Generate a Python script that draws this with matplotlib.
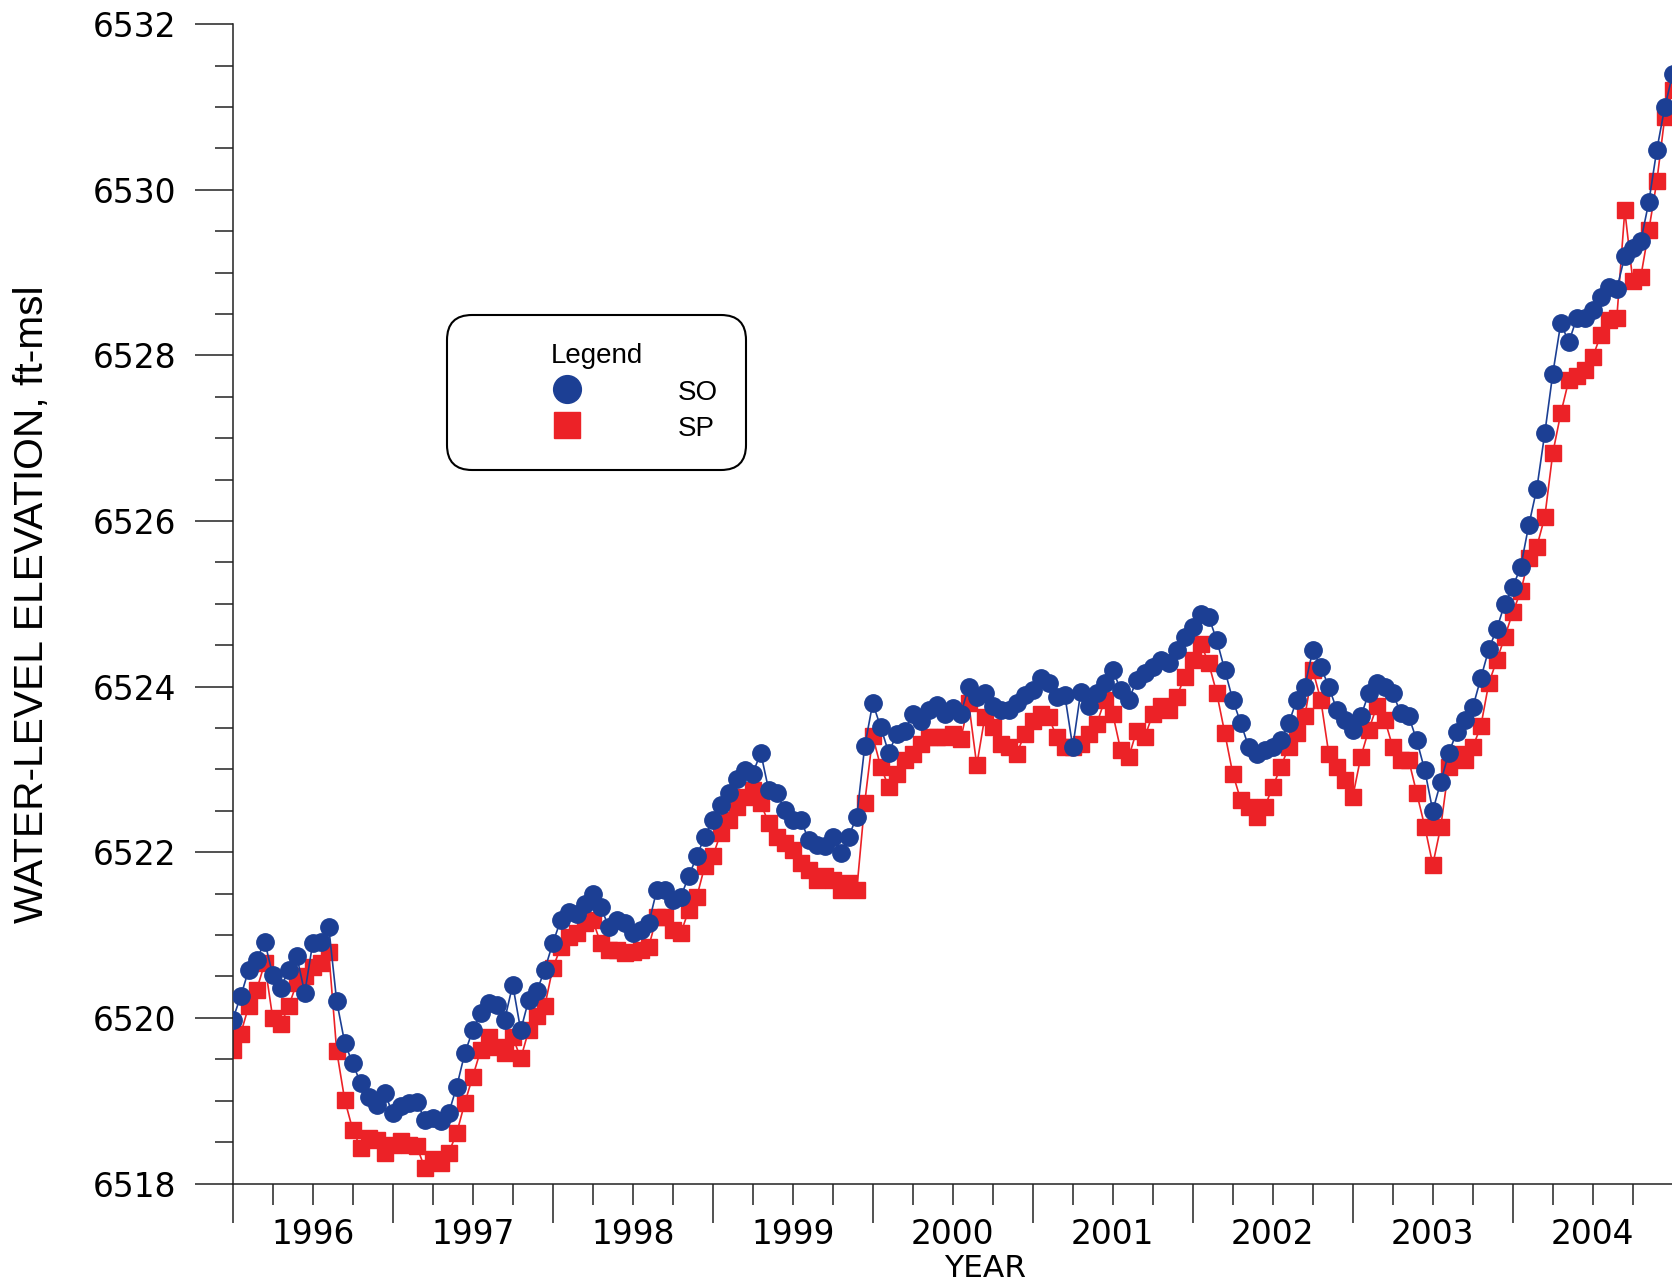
import matplotlib
matplotlib.use("Agg")
import matplotlib.pyplot as plt
from matplotlib.lines import Line2D
from matplotlib.ticker import MultipleLocator, NullFormatter, FuncFormatter

plt.rcParams['font.family'] = ['DejaVu Sans Condensed', 'DejaVu Sans']

# Sampling dates (decimal years)
years = [
    1996.00, 1996.05, 1996.10, 1996.15, 1996.20, 1996.25, 1996.30, 1996.35, 1996.40, 1996.45,
    1996.50, 1996.55, 1996.60, 1996.65, 1996.70, 1996.75, 1996.80, 1996.85, 1996.90, 1996.95,
    1997.00, 1997.05, 1997.10, 1997.15, 1997.20, 1997.25, 1997.30, 1997.35, 1997.40, 1997.45,
    1997.50, 1997.55, 1997.60, 1997.65, 1997.70, 1997.75, 1997.80, 1997.85, 1997.90, 1997.95,
    1998.00, 1998.05, 1998.10, 1998.15, 1998.20, 1998.25, 1998.30, 1998.35, 1998.40, 1998.45,
    1998.50, 1998.55, 1998.60, 1998.65, 1998.70, 1998.75, 1998.80, 1998.85, 1998.90, 1998.95,
    1999.00, 1999.05, 1999.10, 1999.15, 1999.20, 1999.25, 1999.30, 1999.35, 1999.40, 1999.45,
    1999.50, 1999.55, 1999.60, 1999.65, 1999.70, 1999.75, 1999.80, 1999.85, 1999.90, 1999.95,
    2000.00, 2000.05, 2000.10, 2000.15, 2000.20, 2000.25, 2000.30, 2000.35, 2000.40, 2000.45,
    2000.50, 2000.55, 2000.60, 2000.65, 2000.70, 2000.75, 2000.80, 2000.85, 2000.90, 2000.95,
    2001.00, 2001.05, 2001.10, 2001.15, 2001.20, 2001.25, 2001.30, 2001.35, 2001.40, 2001.45,
    2001.50, 2001.55, 2001.60, 2001.65, 2001.70, 2001.75, 2001.80, 2001.85, 2001.90, 2001.95,
    2002.00, 2002.05, 2002.10, 2002.15, 2002.20, 2002.25, 2002.30, 2002.35, 2002.40, 2002.45,
    2002.50, 2002.55, 2002.60, 2002.65, 2002.70, 2002.75, 2002.80, 2002.85, 2002.90, 2002.95,
    2003.00, 2003.05, 2003.10, 2003.15, 2003.20, 2003.25, 2003.30, 2003.35, 2003.40, 2003.45,
    2003.50, 2003.55, 2003.60, 2003.65, 2003.70, 2003.75, 2003.80, 2003.85, 2003.90, 2003.95,
    2004.00, 2004.05, 2004.10, 2004.15, 2004.20, 2004.25, 2004.30, 2004.35, 2004.40, 2004.45,
    2004.50, 2004.55, 2004.60, 2004.65, 2004.70, 2004.75, 2004.80, 2004.85, 2004.90, 2004.95,
    2005.00,
]

# Water-level elevation, ft-msl
so = [
    6519.98, 6520.26, 6520.58, 6520.70, 6520.92, 6520.52, 6520.36, 6520.58, 6520.75, 6520.30,
    6520.90, 6520.92, 6521.10, 6520.20, 6519.70, 6519.45, 6519.21, 6519.05, 6518.95, 6519.09,
    6518.85, 6518.93, 6518.97, 6518.99, 6518.77, 6518.79, 6518.75, 6518.85, 6519.17, 6519.57,
    6519.85, 6520.06, 6520.18, 6520.16, 6519.98, 6520.40, 6519.85, 6520.22, 6520.32, 6520.58,
    6520.90, 6521.18, 6521.28, 6521.26, 6521.38, 6521.50, 6521.34, 6521.10, 6521.18, 6521.14,
    6521.02, 6521.06, 6521.14, 6521.54, 6521.54, 6521.42, 6521.46, 6521.71, 6521.95, 6522.19,
    6522.39, 6522.57, 6522.71, 6522.89, 6522.99, 6522.95, 6523.20, 6522.75, 6522.71, 6522.51,
    6522.39, 6522.39, 6522.15, 6522.09, 6522.07, 6522.19, 6521.99, 6522.19, 6522.43, 6523.28,
    6523.80, 6523.51, 6523.20, 6523.43, 6523.47, 6523.67, 6523.59, 6523.72, 6523.78, 6523.67,
    6523.74, 6523.67, 6524.00, 6523.88, 6523.92, 6523.76, 6523.72, 6523.72, 6523.80, 6523.90,
    6523.96, 6524.10, 6524.04, 6523.88, 6523.90, 6523.27, 6523.94, 6523.76, 6523.92, 6524.04,
    6524.20, 6523.96, 6523.84, 6524.08, 6524.16, 6524.24, 6524.32, 6524.28, 6524.44, 6524.60,
    6524.72, 6524.88, 6524.84, 6524.56, 6524.20, 6523.84, 6523.56, 6523.27, 6523.19, 6523.23,
    6523.27, 6523.35, 6523.56, 6523.84, 6524.00, 6524.44, 6524.24, 6524.00, 6523.72, 6523.60,
    6523.48, 6523.64, 6523.92, 6524.04, 6524.00, 6523.92, 6523.68, 6523.64, 6523.35, 6522.99,
    6522.50, 6522.85, 6523.20, 6523.45, 6523.60, 6523.75, 6524.10, 6524.45, 6524.70, 6525.00,
    6525.20, 6525.45, 6525.95, 6526.39, 6527.06, 6527.78, 6528.39, 6528.16, 6528.45, 6528.45,
    6528.55, 6528.70, 6528.82, 6528.80, 6529.20, 6529.30, 6529.38, 6529.85, 6530.48, 6531.00,
    6531.40,
]

sp = [
    6519.61, 6519.81, 6520.14, 6520.34, 6520.66, 6520.00, 6519.92, 6520.14, 6520.42, 6520.50,
    6520.62, 6520.66, 6520.80, 6519.60, 6519.01, 6518.65, 6518.43, 6518.55, 6518.53, 6518.37,
    6518.47, 6518.51, 6518.47, 6518.45, 6518.19, 6518.29, 6518.25, 6518.37, 6518.61, 6518.97,
    6519.29, 6519.61, 6519.77, 6519.65, 6519.57, 6519.77, 6519.51, 6519.85, 6520.02, 6520.14,
    6520.60, 6520.85, 6520.98, 6521.02, 6521.14, 6521.18, 6520.90, 6520.82, 6520.82, 6520.78,
    6520.80, 6520.82, 6520.86, 6521.22, 6521.22, 6521.06, 6521.02, 6521.30, 6521.46, 6521.83,
    6521.95, 6522.23, 6522.39, 6522.55, 6522.67, 6522.75, 6522.59, 6522.35, 6522.19, 6522.11,
    6522.03, 6521.87, 6521.79, 6521.67, 6521.71, 6521.67, 6521.54, 6521.63, 6521.54, 6522.60,
    6523.40, 6523.03, 6522.79, 6522.95, 6523.11, 6523.19, 6523.31, 6523.39, 6523.39, 6523.39,
    6523.43, 6523.37, 6523.80, 6523.05, 6523.63, 6523.51, 6523.31, 6523.27, 6523.19, 6523.43,
    6523.59, 6523.67, 6523.63, 6523.39, 6523.27, 6523.27, 6523.31, 6523.43, 6523.55, 6523.84,
    6523.67, 6523.23, 6523.15, 6523.47, 6523.39, 6523.67, 6523.76, 6523.72, 6523.88, 6524.12,
    6524.32, 6524.52, 6524.28, 6523.92, 6523.44, 6522.95, 6522.63, 6522.55, 6522.43, 6522.55,
    6522.79, 6523.03, 6523.27, 6523.44, 6523.64, 6524.20, 6523.84, 6523.19, 6523.03, 6522.87,
    6522.67, 6523.15, 6523.48, 6523.76, 6523.60, 6523.27, 6523.11, 6523.11, 6522.71, 6522.31,
    6521.85, 6522.31, 6523.03, 6523.19, 6523.11, 6523.27, 6523.52, 6524.04, 6524.32, 6524.60,
    6524.90, 6525.15, 6525.55, 6525.69, 6526.05, 6526.82, 6527.30, 6527.70, 6527.75, 6527.82,
    6527.98, 6528.25, 6528.43, 6528.45, 6529.75, 6528.90, 6528.95, 6529.51, 6530.10, 6530.88,
    6531.20,
]

blue = '#1c3f94'
red = '#ec2227'

W, H = 1672, 1286
fig = plt.figure(figsize=(W / 100, H / 100), dpi=100)
ax = fig.add_axes([232.7 / W, 1 - 1183.5 / H, (W - 232.7) / W, (1183.5 - 24.1) / H])

ax.plot(years, sp, color=red, lw=1.2, marker='s', ms=11, mec=red, mfc=red, zorder=2)
ax.plot(years, so, color=blue, lw=1.2, marker='o', ms=12.5, mec=blue, mfc=blue, zorder=3)

ax.set_xlim(1996, 2004.995)
ax.set_ylim(6518, 6532)

for s in ['top', 'right']:
    ax.spines[s].set_visible(False)
for s in ['left', 'bottom']:
    ax.spines[s].set_linewidth(1.1)
    ax.spines[s].set_color('#222222')

# y ticks
ax.yaxis.set_major_locator(MultipleLocator(2))
ax.yaxis.set_minor_locator(MultipleLocator(0.5))
ax.tick_params(axis='y', which='major', length=27.4, width=1.1, pad=13,
               labelsize=23.7, color='#222222')
ax.tick_params(axis='y', which='minor', length=13, width=1.1, color='#222222')

# x ticks: long ticks at year boundaries, labels centred in each year
ax.xaxis.set_major_locator(MultipleLocator(1))
ax.xaxis.set_minor_locator(MultipleLocator(0.25))
ax.xaxis.set_major_formatter(NullFormatter())
ax.xaxis.set_minor_formatter(FuncFormatter(
    lambda v, p: str(int(v)) if abs(v - int(v) - 0.5) < 0.01 else ''))
ax.tick_params(axis='x', which='major', length=28, width=1.1, color='#222222')
ax.tick_params(axis='x', which='minor', length=15, width=1.1, pad=10,
               labelsize=23.7, color='#222222')

ax.set_ylabel('WATER-LEVEL ELEVATION, ft-msl', fontsize=29.3,
              family='Liberation Sans', va='center')
ax.yaxis.set_label_coords(-0.1394, 0.5)
ax.set_xlabel('YEAR', fontsize=22.5, va='center')
ax.xaxis.set_label_coords(0.5227, -0.0737)

handles = [
    Line2D([], [], ls='none', marker='o', ms=20, color=blue, label='SO'),
    Line2D([], [], ls='none', marker='s', ms=19, color=red, label='SP'),
]
leg = ax.legend(handles=handles, title='Legend', loc='upper left',
                bbox_to_anchor=(0.1489, 0.7491), borderaxespad=0,
                borderpad=1.0, handlelength=6.67, handletextpad=0.64,
                handleheight=1.0, labelspacing=0.32, numpoints=1,
                prop={'family': 'Liberation Sans', 'size': 20},
                title_fontproperties={'family': 'Liberation Sans', 'size': 20},
                frameon=True, fancybox=True, framealpha=1, edgecolor='black')
leg.get_frame().set_linewidth(1.5)
leg.get_frame().set_boxstyle('round,pad=0,rounding_size=0.9')

fig.savefig('out.png', dpi=100)
